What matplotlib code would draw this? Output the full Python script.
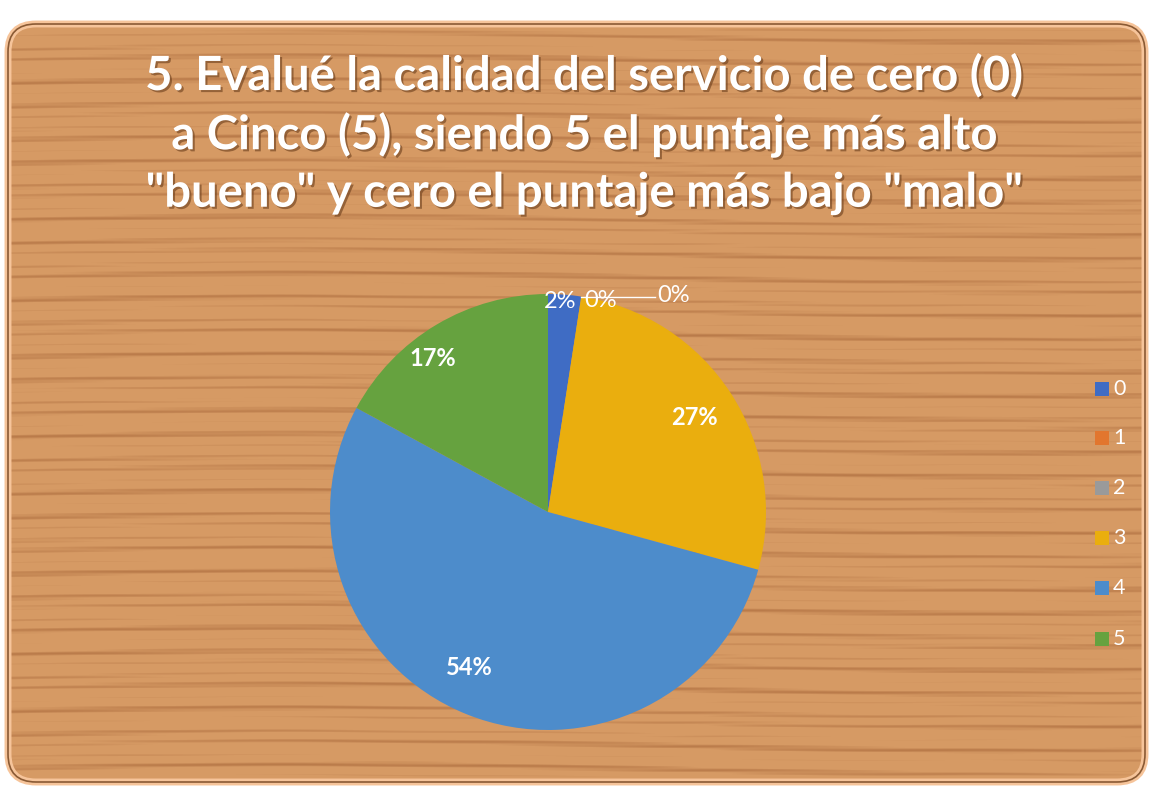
import numpy as np
import matplotlib
matplotlib.use("Agg")
from matplotlib import pyplot as plt
from matplotlib.patches import FancyBboxPatch
import matplotlib.patheffects as pe

# data
categories = ["0", "1", "2", "3", "4", "5"]
counts = [1, 0, 0, 11, 22, 7]
colors = ["#3F6CC4", "#E2762E", "#9A9A9A", "#EAAE0E", "#4D8CCB", "#66A23F"]
title = ('5. Evalué la calidad del servicio de cero (0)\n'
         'a Cinco (5), siendo 5 el puntaje más alto\n'
         '"bueno" y cero el puntaje más bajo "malo"')

W, H = 1151, 790
fig = plt.figure(figsize=(W/100, H/100), dpi=100)
fig.patch.set_facecolor("white")

# background axes in pixel coords
bg = fig.add_axes([0, 0, 1, 1])
bg.set_xlim(0, W)
bg.set_ylim(H, 0)
bg.axis("off")

# wood-ish texture (soft horizontal grain)
yy = np.arange(H)[:, None].astype(float)
xx = np.arange(W)[None, :].astype(float)
v = (0.45*np.sin(yy*0.55 + 2.5*np.sin(xx/210.0))
     + 0.35*np.sin(yy*0.23 + 2*np.sin(xx/330.0 + 1))
     + 0.2*np.sin(yy*1.3 + np.sin(xx/120.0) + 0.5*np.sin(xx/37.0)))
streak = np.clip((v - 0.2)/0.9, 0, 1)
base = np.array([214, 154, 100])/255.0
dark = np.array([165, 100, 55])/255.0
img = base[None, None, :]*(1 - streak[..., None]*0.65) + dark[None, None, :]*(streak[..., None]*0.65)
img = np.clip(img, 0, 1)

frame = FancyBboxPatch((8, 24), 1137, 758, boxstyle="round,pad=0,rounding_size=28",
                       facecolor="none", edgecolor="#F6C49A", linewidth=5, zorder=3)
bg.add_patch(frame)
im = bg.imshow(img, extent=(0, W, H, 0), aspect="auto", zorder=1, interpolation="bilinear")
im.set_clip_path(frame)
inner = FancyBboxPatch((8, 24), 1137, 758, boxstyle="round,pad=0,rounding_size=28",
                       facecolor="none", edgecolor="#8A5A34", linewidth=1.2, zorder=4)
bg.add_patch(inner)

bg.text(585, 134, title, ha="center", va="center", color="white", fontsize=34,
        fontweight="bold", family=["Lato", "DejaVu Sans"], linespacing=1.36,
        path_effects=[pe.withSimplePatchShadow(offset=(1.5, -1.5), shadow_rgbFace="#6b3e1c", alpha=0.6)],
        zorder=5)

# pie
cx, cy, r = 548, 512, 218
ax = fig.add_axes([(cx - r)/W, (H - cy - r)/H, 2*r/W, 2*r/H])
ax.axis("off")
ax.patch.set_alpha(0)

total = sum(counts)
wedges, texts, autotexts = ax.pie(counts, colors=colors, startangle=90, counterclock=False,
                                  radius=1, autopct=lambda p: "%d%%" % round(p),
                                  pctdistance=0.8,
                                  wedgeprops=dict(linewidth=0),
                                  textprops=dict(color="white", fontsize=17,
                                                 family=["Lato", "DejaVu Sans"]))
ax.set_xlim(-1, 1)
ax.set_ylim(-1, 1)
for t in autotexts:
    t.set_fontweight("bold")

# small slices: labels at the edge
cum = 0
for i, (w, t) in enumerate(zip(wedges, autotexts)):
    frac = counts[i]/total
    mid = np.deg2rad(90 - 360*(cum + frac/2))
    if counts[i] <= 1:
        t.set_fontweight("normal")
        if i == 0:
            t.set_position((0.98*np.cos(mid) - 0.02, 0.97*np.sin(mid)))
        elif i == 1:
            t.set_position((0.24, 0.97))
        elif i == 2:
            ex, ey = np.cos(mid), np.sin(mid)
            t.set_position((ex + 0.35, ey + 0.005))
            t.set_ha("left")
            ax.plot([ex, ex + 0.34], [ey, ey], color="white", lw=1, clip_on=False)
    if i == 4:
        t.set_position((0.8*np.cos(np.deg2rad(243)), 0.8*np.sin(np.deg2rad(243))))
    if i == 5:
        t.set_position((0.88*np.cos(np.deg2rad(127)), 0.88*np.sin(np.deg2rad(127))))
    t.set_clip_on(False)
    cum += frac

# legend
leg_y = [389, 438, 488, 538, 588, 639]
for c, lab, y in zip(colors, categories, leg_y):
    bg.add_patch(plt.Rectangle((1095, y - 7), 14, 14, facecolor=c, edgecolor="none", zorder=5))
    bg.text(1113, y, lab, ha="left", va="center", color="white", fontsize=15.5,
            family=["Lato", "DejaVu Sans"], zorder=5)

fig.savefig("out.png", dpi=100)
